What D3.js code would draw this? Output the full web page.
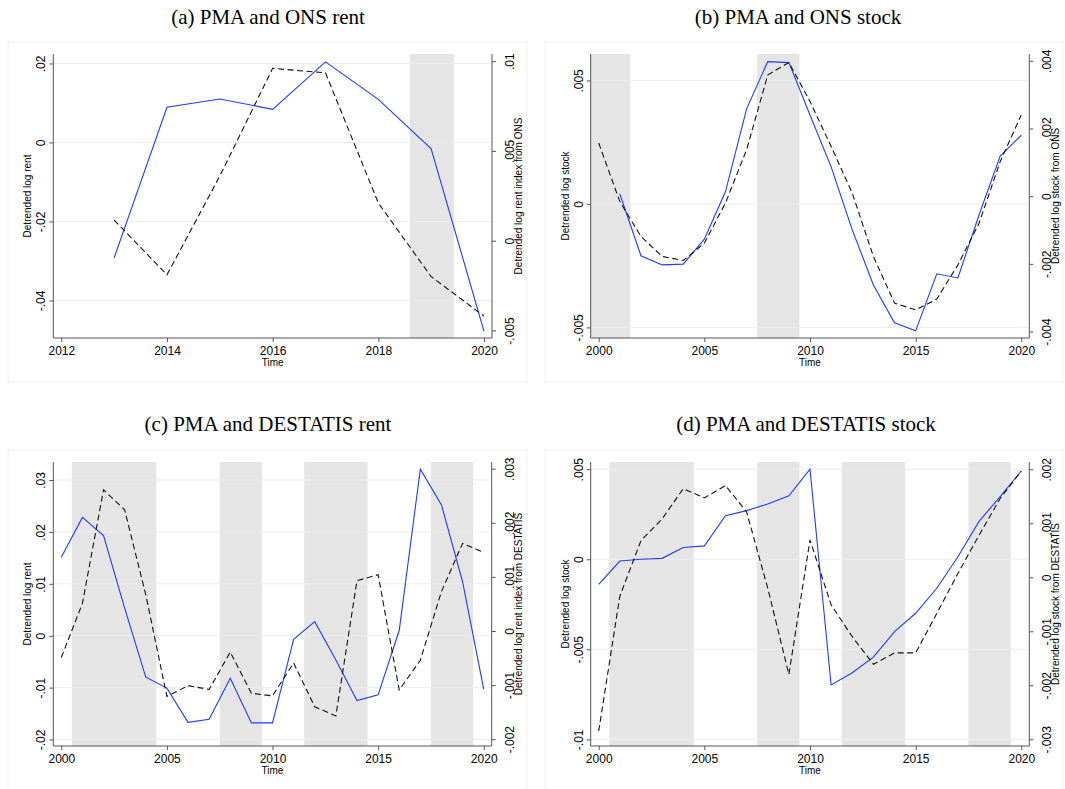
<!DOCTYPE html>
<html>
<head>
<meta charset="utf-8">
<script src="https://cdn.jsdelivr.net/npm/d3@7"></script>
<style>
    body { margin: 0; background: #fff; }
    svg { display: block; }
    .tick-label { font-family: "Liberation Sans", Arial, sans-serif; font-size: 12px; fill: #000; }
    .axis-title { font-family: "Liberation Sans", Arial, sans-serif; font-size: 10px; fill: #000; }
    .panel-title { font-family: "Liberation Serif", "DejaVu Serif", serif; font-size: 21px; fill: #000; }
</style>
</head>
<body>
<svg id="chart"></svg>
<script>
const width = 1065,
    height = 789;

const yearsA = [2013, 2014, 2015, 2016, 2017, 2018, 2019, 2020];
const pmaRentUK = [-0.0292, 0.0089, 0.011, 0.0084, 0.0204, 0.0109, -0.0016, -0.0478];
const onsRent = [0.00115, -0.0019, 0.0036, 0.0096, 0.00935, 0.0021, -0.002, -0.0042];

const years = d3.range(2000, 2021);
const pmaStockUK = [null, 0.0004, -0.0021, -0.00247, -0.00244, -0.00143, 0.0005, 0.00385, 0.00576, 0.00572,
    0.0036, 0.0015, -0.00105, -0.00328, -0.00481, -0.00514, -0.00283, -0.003, -0.00045, 0.00194, 0.00278];
const onsStock = [0.00157, -0.00016, -0.00119, -0.00178, -0.0019, -0.00139, -0.0002, 0.00137, 0.00358, 0.00395,
    0.0028, 0.00147, 0.00009, -0.00178, -0.00316, -0.00336, -0.00304, -0.00203, -0.0008, 0.00102, 0.0024];
const pmaRentDE = [0.0151, 0.0228, 0.0193, 0.0053, -0.008, -0.0101, -0.0167, -0.0161, -0.0082, -0.0168,
    -0.0168, -0.0007, 0.0027, -0.0047, -0.0125, -0.0114, 0.001, 0.0321, 0.0252, 0.0104, -0.0103];
const destatisRent = [-0.00049, 0.00051, 0.00261, 0.00224, 0.00067, -0.00121, -0.00101, -0.00108, -0.00039, -0.00115,
    -0.0012, -0.00059, -0.0014, -0.00157, 0.00093, 0.00104, -0.00109, -0.00054, 0.00073, 0.00162, 0.00145];
const pmaStockDE = [-0.00139, -0.0001, 0.0, 0.00005, 0.00065, 0.00074, 0.00242, 0.0027, 0.00307, 0.00352,
    0.005, -0.00698, -0.0063, -0.00544, -0.00402, -0.003, -0.00161, 0.00014, 0.0021, 0.00348, 0.0049];
const destatisStock = [-0.00285, -0.00035, 0.00068, 0.00108, 0.00164, 0.00147, 0.0017, 0.00121, -0.0002, -0.0018,
    0.00069, -0.00051, -0.0011, -0.00161, -0.0014, -0.0014, -0.00067, 0.00007, 0.00078, 0.00146, 0.00197];

// recession shading (start, end year)
const shadesA = [[2018.6, 2019.43]];
const shadesB = [[1999.5, 2001.5], [2007.5, 2009.5]];
const shadesDE = [[2000.5, 2004.5], [2007.5, 2009.5], [2011.5, 2014.5], [2017.5, 2019.5]];

const xTicksA = [2012, 2014, 2016, 2018, 2020];
const xTicks = [2000, 2005, 2010, 2015, 2020];

const titles = [
    "(a) PMA and ONS rent",
    "(b) PMA and ONS stock",
    "(c) PMA and DESTATIS rent",
    "(d) PMA and DESTATIS stock"
];

const svg = d3.select("#chart").attr("width", width).attr("height", height);

// Stata-style numbers: .02, -.005, 0
function stataFmt(v) {
    if (Math.abs(v) < 1e-12) return "0";
    return String(+v.toPrecision(6)).replace("0.", ".");
}

function drawPanel(p) {
    const g = svg.append("g");

    g.append("rect")
        .attr("x", p.box[0])
        .attr("y", p.box[1])
        .attr("width", p.box[2])
        .attr("height", p.box[3])
        .attr("fill", "none")
        .attr("stroke", "#f0f1f1")
        .attr("stroke-width", 1);

    g.append("text")
        .attr("class", "panel-title")
        .attr("x", p.titleX)
        .attr("y", p.titleY)
        .attr("text-anchor", "middle")
        .text(p.title);

    const x = d3.scaleLinear().domain(p.xDomain).range([p.left + 8, p.right - 8]);
    const yL = d3.scaleLinear().domain(p.yLeft).range([p.bottom, p.top]);
    const yR = d3.scaleLinear().domain(p.yRight).range([p.bottom, p.top]);
    const xMin = x.invert(p.left),
        xMax = x.invert(p.right);

    g.selectAll(".shade")
        .data(p.shades)
        .enter()
        .append("rect")
        .attr("x", d => x(Math.max(d[0], xMin)))
        .attr("y", p.top)
        .attr("width", d => x(Math.min(d[1], xMax)) - x(Math.max(d[0], xMin)))
        .attr("height", p.bottom - p.top)
        .attr("fill", "#e5e5e5");

    g.selectAll(".grid")
        .data(p.leftTicks)
        .enter()
        .append("line")
        .attr("x1", p.left)
        .attr("x2", p.right)
        .attr("y1", d => yL(d))
        .attr("y2", d => yL(d))
        .attr("stroke", "#e9efef")
        .attr("stroke-width", 1);

    const lineL = d3.line()
        .defined(d => d[1] != null)
        .x(d => x(d[0]))
        .y(d => yL(d[1]));
    const lineR = d3.line()
        .defined(d => d[1] != null)
        .x(d => x(d[0]))
        .y(d => yR(d[1]));

    g.append("path")
        .datum(p.years.map((yr, i) => [yr, p.pma[i]]))
        .attr("d", lineL)
        .attr("fill", "none")
        .attr("stroke", "#1f3cff")
        .attr("stroke-width", 1.1);

    g.append("path")
        .datum(p.years.map((yr, i) => [yr, p.official[i]]))
        .attr("d", lineR)
        .attr("fill", "none")
        .attr("stroke", "#111")
        .attr("stroke-width", 1.1)
        .attr("stroke-dasharray", "6,3.5");

    const axisColor = "#555";

    // x axis
    const xa = g.append("g").attr("transform", `translate(0,${p.bottom})`)
        .call(d3.axisBottom(x).tickValues(p.xTicks).tickFormat(d3.format("d")).tickSize(4).tickPadding(4));
    xa.select(".domain").attr("d", `M${p.left},0H${p.right}`).attr("stroke", axisColor);
    xa.selectAll(".tick line").attr("stroke", axisColor);
    xa.selectAll(".tick text").attr("class", "tick-label").attr("font-family", null).attr("font-size", null);

    g.append("text")
        .attr("class", "axis-title")
        .attr("x", (p.left + p.right) / 2)
        .attr("y", p.bottom + 28)
        .attr("text-anchor", "middle")
        .text("Time");

    // left axis
    const la = g.append("g").attr("transform", `translate(${p.left},0)`)
        .call(d3.axisLeft(yL).tickValues(p.leftTicks).tickFormat(stataFmt).tickSize(4));
    la.select(".domain").attr("d", `M0,${p.top}V${p.bottom}`).attr("stroke", axisColor);
    la.selectAll(".tick line").attr("stroke", axisColor);
    la.selectAll(".tick text")
        .attr("class", "tick-label")
        .attr("font-family", null)
        .attr("font-size", null)
        .attr("x", null)
        .attr("dy", null)
        .attr("text-anchor", "middle")
        .attr("transform", "translate(-8,0) rotate(-90)");

    g.append("text")
        .attr("class", "axis-title")
        .attr("transform", `translate(${p.left - 22},${(p.top + p.bottom) / 2}) rotate(-90)`)
        .attr("text-anchor", "middle")
        .text(p.leftTitle);

    // right axis
    const ra = g.append("g").attr("transform", `translate(${p.right},0)`)
        .call(d3.axisRight(yR).tickValues(p.rightTicks).tickFormat(stataFmt).tickSize(4));
    ra.select(".domain").attr("d", `M0,${p.top}V${p.bottom}`).attr("stroke", axisColor);
    ra.selectAll(".tick line").attr("stroke", axisColor);
    ra.selectAll(".tick text")
        .attr("class", "tick-label")
        .attr("font-family", null)
        .attr("font-size", null)
        .attr("x", null)
        .attr("dy", null)
        .attr("text-anchor", "middle")
        .attr("transform", "translate(22,0) rotate(-90)");

    g.append("text")
        .attr("class", "axis-title")
        .attr("transform", `translate(${p.right + 30},${(p.top + p.bottom) / 2}) rotate(-90)`)
        .attr("text-anchor", "middle")
        .text(p.rightTitle);
}

drawPanel({
    title: titles[0], titleX: 268, titleY: 24,
    box: [8, 42, 519, 340],
    left: 53.3, right: 492, top: 54, bottom: 338,
    xDomain: [2012, 2020], xTicks: xTicksA,
    yLeft: [-0.0495, 0.0224], leftTicks: [-0.04, -0.02, 0, 0.02],
    yRight: [-0.00542, 0.0104], rightTicks: [-0.005, 0, 0.005, 0.01],
    years: yearsA, pma: pmaRentUK, official: onsRent, shades: shadesA,
    leftTitle: "Detrended log rent", rightTitle: "Detrended log rent index from ONS"
});

drawPanel({
    title: titles[1], titleX: 798, titleY: 24,
    box: [545, 42, 518, 340],
    left: 590.7, right: 1029.3, top: 54, bottom: 338,
    xDomain: [2000, 2020], xTicks: xTicks,
    yLeft: [-0.00543, 0.00607], leftTicks: [-0.005, 0, 0.005],
    yRight: [-0.00419, 0.0042], rightTicks: [-0.004, -0.002, 0, 0.002, 0.004],
    years: years, pma: pmaStockUK, official: onsStock, shades: shadesB,
    leftTitle: "Detrended log stock", rightTitle: "Detrended log stock from ONS"
});

drawPanel({
    title: titles[2], titleX: 268, titleY: 431,
    box: [8, 450, 519, 345],
    left: 53.3, right: 491.7, top: 462, bottom: 746,
    xDomain: [2000, 2020], xTicks: xTicks,
    yLeft: [-0.02125, 0.03347], leftTicks: [-0.02, -0.01, 0, 0.01, 0.02, 0.03],
    yRight: [-0.002126, 0.003124], rightTicks: [-0.002, -0.001, 0, 0.001, 0.002, 0.003],
    years: years, pma: pmaRentDE, official: destatisRent, shades: shadesDE,
    leftTitle: "Detrended log rent", rightTitle: "Detrended log rent index from DESTATIS"
});

drawPanel({
    title: titles[3], titleX: 806, titleY: 431,
    box: [545, 450, 518, 345],
    left: 590.7, right: 1029.3, top: 462, bottom: 746,
    xDomain: [2000, 2020], xTicks: xTicks,
    yLeft: [-0.01037, 0.0054], leftTicks: [-0.01, -0.005, 0, 0.005],
    yRight: [-0.003124, 0.002135], rightTicks: [-0.003, -0.002, -0.001, 0, 0.001, 0.002],
    years: years, pma: pmaStockDE, official: destatisStock, shades: shadesDE,
    leftTitle: "Detrended log stock", rightTitle: "Detrended log stock from DESTATIS"
});
</script>
</body>
</html>
